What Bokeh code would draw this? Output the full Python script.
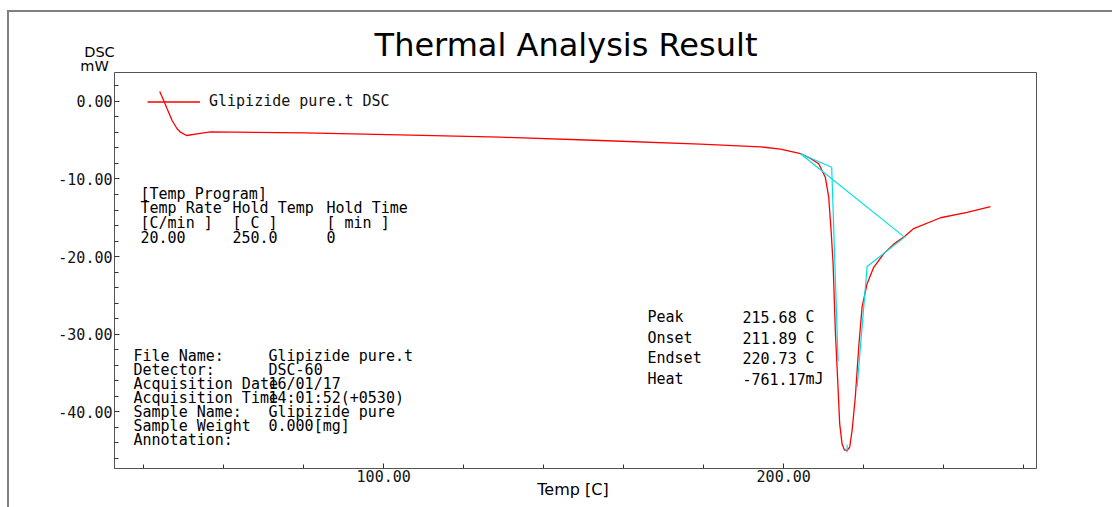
from bokeh.plotting import figure
from bokeh.models import Range1d, FixedTicker, PrintfTickFormatter, Label, Legend, LegendItem
from bokeh.embed import file_html
from bokeh.resources import INLINE

# ---- data ----
temp = [44.0, 45.0, 45.85, 47.1, 48.35, 49.2, 50.7, 53.35, 56.7, 80.0, 104.0,
        129.2, 154.2, 179.2, 194.2, 199.2, 204.2, 206.7, 208.75, 210.4, 211.25,
        211.85, 212.35, 212.9, 213.5, 214.0, 214.6, 215.2, 215.85, 216.5, 217.1, 217.9,
        218.75, 219.6, 220.85, 222.5, 225.0, 227.5, 230.0, 232.5, 239.2, 245.85, 251.7]
dsc = [1.29, 0.13, -0.94, -2.45, -3.52, -3.96, -4.39, -4.17, -3.91, -4.05, -4.3,
       -4.61, -5.03, -5.5, -5.85, -6.15, -6.72, -7.35, -8.04, -9.77, -12.35,
       -16.65, -20.95, -29.5, -36.0, -41.6, -44.2, -44.95, -45.03, -44.6, -42.45, -38.15,
       -31.7, -26.5, -23.5, -21.4, -19.65, -18.4, -17.5, -16.4, -15.0, -14.3, -13.55]

# analysis construction lines (baseline, tangents, peak marker)
left_tan_t = [204.2, 212.0, 213.6]
left_tan_y = [-6.75, -8.48, -33.5]
right_tan_t = [218.35, 220.85, 230.2, 204.2]
right_tan_y = [-36.86, -21.3, -17.5, -6.75]
peak_mark_t = [215.85, 215.85]
peak_mark_y = [-44.3, -45.25]

x_major = [100, 200]
x_minor = [40, 60, 80, 120, 140, 160, 180, 220, 240, 260]
y_major = [-40, -30, -20, -10, 0]
y_minor = [-46, -44, -42, -38, -36, -34, -32, -28, -26, -24, -22, -18, -16, -14, -12,
           -8, -6, -4, -2, 2]

series_label = "Glipizide pure.t DSC"
title_text = "Thermal Analysis Result"
x_label = "Temp  [C]"
y_label = ["DSC", "mW"]

prog_rows = [["[Temp Program]", "", ""],
             ["Temp Rate", "Hold Temp", "Hold Time"],
             ["[C/min ]", "[ C  ]", "[ min ]"],
             ["20.00", "250.0", "0"]]
file_rows = [["File Name:", "Glipizide pure.t"],
             ["Detector:", "DSC-60"],
             ["Acquisition Date", "16/01/17"],
             ["Acquisition Time", "14:01:52(+0530)"],
             ["Sample Name:", "Glipizide pure"],
             ["Sample Weight", "0.000[mg]"],
             ["Annotation:", ""]]
result_rows = [["Peak", "215.68", "C"],
               ["Onset", "211.89", "C"],
               ["Endset", "220.73", "C"],
               ["Heat", "-761.17", "mJ"]]

MONO = "DejaVu Sans Mono"
SANS = "DejaVu Sans"

p = figure(width=1112, height=507, output_backend="svg", toolbar_location=None,
           x_range=Range1d(32.7, 263.2), y_range=Range1d(-47.35, 3.74),
           min_border_left=114, min_border_right=76, min_border_top=72,
           min_border_bottom=39)
# outer grey frame of the report page (drawn behind the transparent canvas border)
p.styles = {"background": "linear-gradient(#808080, #808080) 7px 10px / 2px 497px no-repeat, "
                          "linear-gradient(#808080, #808080) 7px 10px / 1105px 2px no-repeat, "
                          "#ffffff"}
p.border_fill_alpha = 0
p.background_fill_color = "white"
p.outline_line_color = "#555555"
p.outline_line_width = 1
p.xgrid.visible = False
p.ygrid.visible = False

p.xaxis.ticker = FixedTicker(ticks=x_major, minor_ticks=x_minor)
p.yaxis.ticker = FixedTicker(ticks=y_major, minor_ticks=y_minor)
for ax in (p.xaxis[0], p.yaxis[0]):
    ax.formatter = PrintfTickFormatter(format="%.2f")
    ax.axis_line_color = "#555555"
    ax.major_tick_line_color = "#333333"
    ax.minor_tick_line_color = "#333333"
    ax.major_tick_in = 5
    ax.major_tick_out = 0
    ax.minor_tick_in = 4
    ax.minor_tick_out = 0
    ax.major_label_text_font = MONO
    ax.major_label_text_font_size = "15px"
    ax.major_label_text_color = "#111111"
p.xaxis.major_label_standoff = 1
p.yaxis.major_label_standoff = 2
p.xaxis.axis_label = x_label
p.xaxis.axis_label_text_font = SANS
p.xaxis.axis_label_text_font_size = "16px"
p.xaxis.axis_label_text_font_style = "normal"
p.xaxis.axis_label_text_color = "#000000"
p.xaxis.axis_label_standoff = -5

r = p.line(temp, dsc, line_color="#ff0000", line_width=1.3)
p.multi_line(xs=[left_tan_t, right_tan_t, peak_mark_t],
             ys=[left_tan_y, right_tan_y, peak_mark_y],
             line_color="#00e0e6", line_width=1.2)

legend = Legend(items=[LegendItem(label=series_label, renderers=[r])],
                location=(33, 358), glyph_width=53, glyph_height=15,
                label_height=15, label_standoff=9, padding=0, margin=0,
                border_line_color=None, background_fill_alpha=0,
                label_text_font=MONO, label_text_font_size="15px",
                label_text_color="#111111")
p.add_layout(legend)

FL, FB = 114, 468  # frame left / bottom in page pixels


def add_text(px, py, txt, font=MONO, size="15px", align="left"):
    """text inside the plot frame; py is the text's vertical centre"""
    if not txt:
        return
    p.add_layout(Label(x=px - FL, y=FB - py, x_units="screen", y_units="screen",
                       text=txt, text_font=font, text_font_size=size,
                       text_align=align, text_baseline="middle",
                       text_color="#000000"))


# texts above the frame live in the (unclipped) above panel; each label's panel
# is stacked outward from the frame top, so positions are relative to it
above_specs = [  # (text, font, size px, centre x, centre y, align, panel bottom)
    (title_text, SANS, 32, 565.5, 44, "center", 72.0),
    (y_label[0], SANS, 14.5, 99, 52, "center", 72.0 - 1.164 * 32),
    (y_label[1], SANS, 14.5, 94, 65, "center", 72.0 - 1.164 * 32 - 1.164 * 14.5),
]
for txt, font, size, cx, cy, align, bottom in above_specs:
    p.add_layout(Label(x=cx - FL, y=bottom - cy, x_units="screen", y_units="screen",
                       text=txt, text_font=font, text_font_size=f"{size}px",
                       text_align=align, text_baseline="middle",
                       text_color="#000000"), "above")

cols1 = [140, 232, 326]
rows1 = [193, 207, 222, 236]
for i, row in enumerate(prog_rows):
    for j, t in enumerate(row):
        add_text(cols1[j], rows1[i], t)

cols2 = [133, 268]
for i, row in enumerate(file_rows):
    for j, t in enumerate(row):
        add_text(cols2[j], 355 + 14 * i, t)

cols3 = [647, 742, 805]
rows3 = [316, 337, 357, 378]
for i, row in enumerate(result_rows):
    for j, t in enumerate(row):
        add_text(cols3[j], rows3[i], t)

open("out.html", "w").write(file_html(p, INLINE))
